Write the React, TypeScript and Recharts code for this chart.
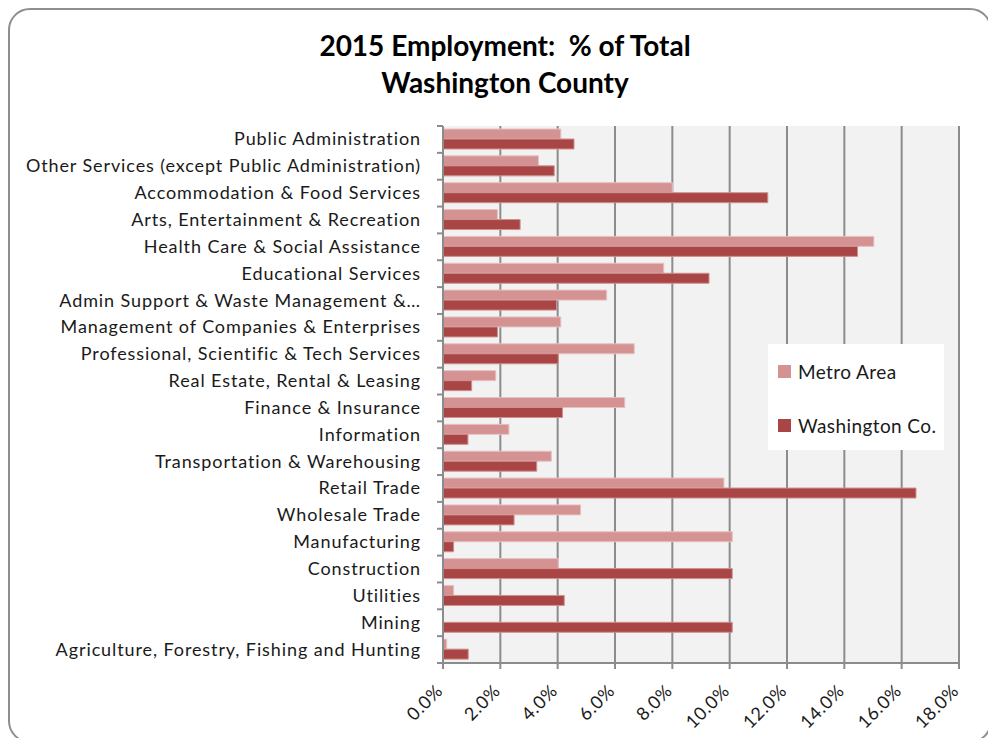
import React from "react";
import { BarChart, Bar, XAxis, YAxis, CartesianGrid } from "recharts";

const categories = [
  "Public Administration",
  "Other Services (except Public Administration)",
  "Accommodation & Food Services",
  "Arts, Entertainment & Recreation",
  "Health Care & Social Assistance",
  "Educational Services",
  "Admin Support & Waste Management &…",
  "Management of Companies & Enterprises",
  "Professional, Scientific & Tech Services",
  "Real Estate, Rental & Leasing",
  "Finance & Insurance",
  "Information",
  "Transportation & Warehousing",
  "Retail Trade",
  "Wholesale Trade",
  "Manufacturing",
  "Construction",
  "Utilities",
  "Mining",
  "Agriculture, Forestry, Fishing and Hunting",
];

const metroArea = [
  4.11, 3.33, 8.0, 1.9, 15.03, 7.7, 5.71, 4.11, 6.67, 1.84, 6.34, 2.3, 3.78,
  9.8, 4.8, 10.09, 4.02, 0.37, 0, 0.13,
];

const washingtonCo = [
  4.57, 3.88, 11.33, 2.69, 14.46, 9.28, 3.96, 1.9, 4.02, 1.0, 4.17, 0.87, 3.27,
  16.5, 2.48, 0.37, 10.09, 4.23, 10.09, 0.88,
];

const xTicks = [0, 2, 4, 6, 8, 10, 12, 14, 16, 18];

const series = [
  { key: "metro", name: "Metro Area", color: "#d49292", edge: "#e7c1c1" },
  { key: "washington", name: "Washington Co.", color: "#a94645", edge: "#cf9190" },
];

const data = categories.map((name, i) => ({
  name,
  metro: metroArea[i],
  washington: washingtonCo[i],
}));

const FONT = "Lato, 'Open Sans', sans-serif";
const GRAY = "#8c8c8c";
const PLOT_TOP = 126;
const PLOT_BOTTOM = 663;
const TICK_SIZE = 6;
const TICK_MARGIN = 16;
const band = (PLOT_BOTTOM - PLOT_TOP) / categories.length;

// category labels centred in the band, tick marks on the band edges (Excel style)
function CategoryTick(props: any) {
  const { x, y, payload, index } = props;
  const axisX = x + TICK_SIZE + TICK_MARGIN;
  return (
    <g>
      {index === 0 && (
        <line
          x1={axisX - TICK_SIZE}
          x2={axisX}
          y1={y - band / 2}
          y2={y - band / 2}
          stroke={GRAY}
          strokeWidth={2}
        />
      )}
      <line
        x1={axisX - TICK_SIZE}
        x2={axisX}
        y1={y + band / 2}
        y2={y + band / 2}
        stroke={GRAY}
        strokeWidth={2}
      />
      <text
        x={x}
        y={y}
        dy={6}
        textAnchor="end"
        fill="#1a1a1a"
        style={{ fontFamily: FONT, fontSize: 18, letterSpacing: 0.9 }}
      >
        {payload.value}
      </text>
    </g>
  );
}

function PercentTick(props: any) {
  const { x, y, payload } = props;
  const tx = x + 1;
  const ty = y + 21;
  return (
    <text
      x={tx}
      y={ty}
      textAnchor="end"
      transform={`rotate(-45, ${tx}, ${ty})`}
      fill="#1a1a1a"
      style={{ fontFamily: FONT, fontSize: 18, letterSpacing: 0.6 }}
    >
      {payload.value.toFixed(1) + "%"}
    </text>
  );
}

export default function App() {
  return (
    <div
      style={{
        position: "absolute",
        left: 0,
        top: 0,
        width: 988,
        height: 738,
        overflow: "hidden",
        background: "white",
      }}
    >
      <div
        style={{
          position: "absolute",
          left: 8,
          top: 8,
          width: 984,
          height: 735,
          border: "2px solid #8e8e8e",
          borderRadius: 22,
          boxSizing: "border-box",
        }}
      />
      <div
        style={{
          position: "absolute",
          left: 205,
          width: 600,
          top: 27,
          textAlign: "center",
          fontFamily: FONT,
          fontWeight: 700,
          fontSize: 28,
          lineHeight: "37px",
          color: "#000",
        }}
      >
        <div>2015 Employment:&nbsp; % of Total</div>
        <div>Washington County</div>
      </div>
      <div style={{ position: "absolute", left: 0, top: 0 }}>
        <BarChart
          width={988}
          height={738}
          data={data}
          layout="vertical"
          margin={{ top: PLOT_TOP, right: 29, bottom: 0, left: 0 }}
          barSize={10}
          barGap={0}
        >
          <CartesianGrid
            horizontal={false}
            stroke={GRAY}
            strokeWidth={2}
            fill="#f2f2f2"
            fillOpacity={1}
          />
          <XAxis
            type="number"
            domain={[0, 18]}
            ticks={xTicks}
            interval={0}
            height={738 - PLOT_BOTTOM}
            axisLine={{ stroke: GRAY, strokeWidth: 2 }}
            tickLine={{ stroke: GRAY, strokeWidth: 2 }}
            tickSize={6}
            tick={<PercentTick />}
          />
          <YAxis
            type="category"
            dataKey="name"
            width={443}
            interval={0}
            axisLine={{ stroke: GRAY, strokeWidth: 2 }}
            tickLine={false}
            tickSize={TICK_SIZE}
            tickMargin={TICK_MARGIN}
            tick={<CategoryTick />}
          />
          {series.map((s) => (
            <Bar
              key={s.key}
              dataKey={s.key}
              name={s.name}
              fill={s.color}
              stroke={s.edge}
              strokeWidth={1}
              isAnimationActive={false}
            />
          ))}
        </BarChart>
      </div>
      <div
        style={{
          position: "absolute",
          left: 768,
          top: 344,
          width: 176,
          height: 106,
          background: "white",
          boxSizing: "border-box",
          padding: "17px 0 0 10px",
          fontFamily: FONT,
          fontSize: 19,
          letterSpacing: 0.4,
          color: "#1a1a1a",
        }}
      >
        {series.map((s, i) => (
          <div
            key={s.key}
            style={{
              display: "flex",
              alignItems: "center",
              height: 20,
              marginTop: i === 0 ? 0 : 34,
            }}
          >
            <span
              style={{
                display: "inline-block",
                width: 13,
                height: 13,
                background: s.color,
                marginRight: 7,
              }}
            />
            <span>{s.name}</span>
          </div>
        ))}
      </div>
    </div>
  );
}
